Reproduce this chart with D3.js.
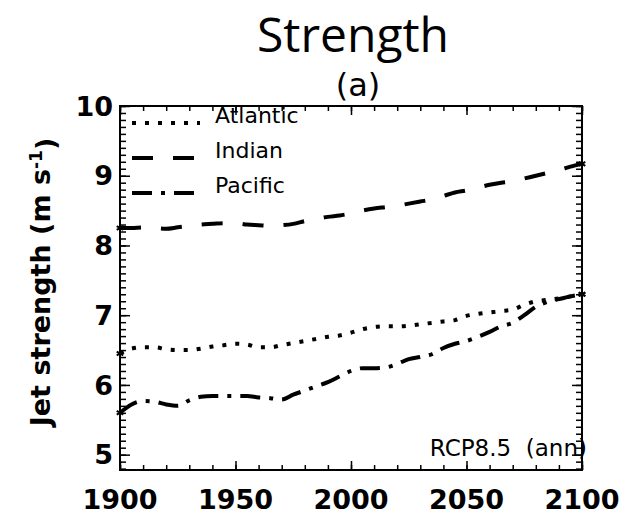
<!DOCTYPE html>
<html lang="en">
<head>
    <meta charset="UTF-8">
    <title>Jet Strength</title>
    <script src="https://d3js.org/d3.v7.min.js"></script>
    <style>
        body {
            margin: 0;
            padding: 0;
            background-color: #fff;
        }
        svg text {
            fill: #000;
        }
        .tick-label {
            font-family: "DejaVu Sans", sans-serif;
            font-weight: bold;
            font-size: 27px;
        }
        .legend-label {
            font-family: "DejaVu Sans", sans-serif;
            font-size: 22px;
        }
    </style>
</head>
<body>
    <div id="chart"></div>
    <script>
        // years sampled every 5 years
        const years = [1900, 1905, 1910, 1915, 1920, 1925, 1930, 1935, 1940, 1945,
            1950, 1955, 1960, 1965, 1970, 1975, 1980, 1985, 1990, 1995,
            2000, 2005, 2010, 2015, 2020, 2025, 2030, 2035, 2040, 2045,
            2050, 2055, 2060, 2065, 2070, 2075, 2080, 2085, 2090, 2095, 2100];

        const atlantic = [6.45, 6.52, 6.54, 6.54, 6.51, 6.50, 6.50, 6.52, 6.55, 6.57,
            6.59, 6.58, 6.54, 6.54, 6.57, 6.60, 6.63, 6.66, 6.69, 6.71,
            6.75, 6.80, 6.83, 6.84, 6.84, 6.85, 6.87, 6.89, 6.91, 6.93,
            6.99, 7.02, 7.04, 7.06, 7.08, 7.15, 7.20, 7.22, 7.24, 7.27, 7.30];

        const indian = [8.25, 8.25, 8.26, 8.25, 8.24, 8.26, 8.28, 8.30, 8.31, 8.32,
            8.32, 8.30, 8.29, 8.28, 8.29, 8.31, 8.35, 8.38, 8.41, 8.43,
            8.46, 8.50, 8.53, 8.55, 8.57, 8.60, 8.63, 8.66, 8.71, 8.76,
            8.79, 8.83, 8.87, 8.90, 8.92, 8.96, 9.00, 9.04, 9.08, 9.13, 9.17];

        const pacific = [5.60, 5.72, 5.77, 5.76, 5.72, 5.70, 5.78, 5.83, 5.84, 5.84,
            5.84, 5.84, 5.82, 5.81, 5.79, 5.86, 5.92, 5.98, 6.04, 6.12,
            6.20, 6.24, 6.24, 6.25, 6.30, 6.37, 6.40, 6.44, 6.53, 6.59,
            6.63, 6.69, 6.76, 6.84, 6.89, 7.00, 7.12, 7.19, 7.23, 7.27, 7.30];

        const seriesNames = ["Atlantic", "Indian", "Pacific"];
        const xTicks = [1900, 1950, 2000, 2050, 2100];
        const yTicks = [5, 6, 7, 8, 9, 10];

        const series = [
            { name: seriesNames[0], values: atlantic, dash: "4,9" },
            { name: seriesNames[1], values: indian, dash: "21,20" },
            { name: seriesNames[2], values: pacific, dash: "20,9,4,9" }
        ];

        const width = 642;
        const height = 518;
        const margin = { top: 106, right: 60, bottom: 48, left: 120 };
        const innerW = width - margin.left - margin.right;
        const innerH = height - margin.top - margin.bottom;

        const svg = d3.select("#chart")
            .append("svg")
            .attr("width", width)
            .attr("height", height);

        const g = svg.append("g")
            .attr("transform", `translate(${margin.left},${margin.top})`);

        const x = d3.scaleLinear()
            .domain([1900, 2100])
            .range([0, innerW]);

        const y = d3.scaleLinear()
            .domain([4.78, 10])
            .range([innerH, 0]);

        // minor and major ticks on all four sides
        const xMinor = d3.range(1900, 2101, 10);
        const yMinor = d3.range(48, 101, 1).map(d => d / 10);

        function addAxis(axis) {
            const a = g.append("g").call(axis);
            a.select(".domain").remove();
            a.selectAll("text").remove();
            a.selectAll("line").attr("stroke", "#000").attr("stroke-width", 1.5);
            return a;
        }

        addAxis(d3.axisBottom(x).tickValues(xMinor).tickSize(-5))
            .attr("transform", `translate(0,${innerH})`);
        addAxis(d3.axisBottom(x).tickValues(xTicks).tickSize(-9))
            .attr("transform", `translate(0,${innerH})`);
        addAxis(d3.axisTop(x).tickValues(xMinor).tickSize(-5));
        addAxis(d3.axisTop(x).tickValues(xTicks).tickSize(-9));
        addAxis(d3.axisLeft(y).tickValues(yMinor).tickSize(-6));
        addAxis(d3.axisLeft(y).tickValues(yTicks).tickSize(-10));
        addAxis(d3.axisRight(y).tickValues(yMinor).tickSize(-6))
            .attr("transform", `translate(${innerW},0)`);
        addAxis(d3.axisRight(y).tickValues(yTicks).tickSize(-10))
            .attr("transform", `translate(${innerW},0)`);

        g.append("rect")
            .attr("width", innerW)
            .attr("height", innerH)
            .attr("fill", "none")
            .attr("stroke", "#000")
            .attr("stroke-width", 2);

        // tick labels
        g.selectAll(".xlab")
            .data(xTicks)
            .enter()
            .append("text")
            .attr("class", "tick-label")
            .attr("x", d => x(d))
            .attr("y", innerH + 39)
            .attr("text-anchor", "middle")
            .text(d => d);

        g.selectAll(".ylab")
            .data(yTicks)
            .enter()
            .append("text")
            .attr("class", "tick-label")
            .attr("x", -7)
            .attr("y", d => y(d))
            .attr("dy", "0.36em")
            .attr("text-anchor", "end")
            .text(d => d);

        // lines
        const line = d3.line()
            .x((_, i) => x(years[i]))
            .y(d => y(d))
            .curve(d3.curveMonotoneX);

        series.forEach(s => {
            g.append("path")
                .datum(s.values)
                .attr("fill", "none")
                .attr("stroke", "#000")
                .attr("stroke-width", 4)
                .attr("stroke-dasharray", s.dash)
                .attr("d", line);

            const ends = [0, s.values.length - 1];
            g.selectAll(null)
                .data(ends)
                .enter()
                .append("path")
                .attr("transform", i => `translate(${x(years[i])},${y(s.values[i])})`)
                .attr("d", d3.symbol(d3.symbolAsterisk, 40))
                .attr("fill", "none")
                .attr("stroke", "#000")
                .attr("stroke-width", 2);
        });

        // legend
        const legend = g.append("g");
        series.forEach((s, i) => {
            const ly = 17 + i * 35;
            legend.append("line")
                .attr("x1", 12)
                .attr("x2", 80)
                .attr("y1", ly)
                .attr("y2", ly)
                .attr("stroke", "#000")
                .attr("stroke-width", 4)
                .attr("stroke-dasharray", s.dash);
            legend.append("text")
                .attr("class", "legend-label")
                .attr("x", 95)
                .attr("y", ly)
                .text(s.name);
        });

        g.append("text")
            .attr("class", "legend-label")
            .attr("x", innerW + 5)
            .attr("y", innerH - 14)
            .attr("text-anchor", "end")
            .style("font-size", "23px")
            .attr("xml:space", "preserve")
            .text("RCP8.5  (ann)");

        // titles
        svg.append("text")
            .attr("x", 353)
            .attr("y", 52)
            .attr("text-anchor", "middle")
            .style("font-family", "'Open Sans', sans-serif")
            .style("font-size", "48px")
            .text("Strength");

        svg.append("text")
            .attr("x", 358)
            .attr("y", 96)
            .attr("text-anchor", "middle")
            .style("font-family", "'DejaVu Sans', sans-serif")
            .style("font-size", "32px")
            .text("(a)");

        const ylab = svg.append("text")
            .attr("transform", `translate(50,${margin.top + innerH / 2 - 6}) rotate(-90)`)
            .attr("text-anchor", "middle")
            .style("font-family", "'DejaVu Sans', sans-serif")
            .style("font-weight", "bold")
            .style("font-size", "27px");
        ylab.append("tspan").text("Jet strength (m s");
        ylab.append("tspan").attr("dy", "-0.45em").style("font-size", "17px").text("-1");
        ylab.append("tspan").attr("dy", "0.45em").text(")");
    </script>
</body>
</html>
